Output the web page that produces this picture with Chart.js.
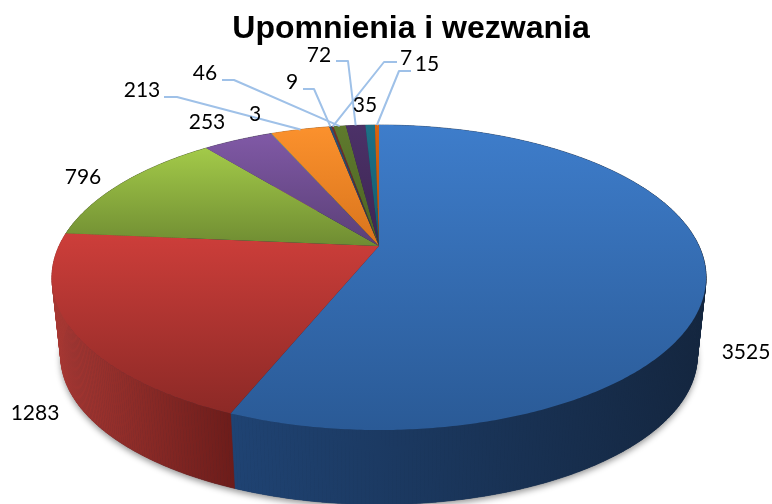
<!DOCTYPE html>
<html><head><meta charset="utf-8">
<style>html,body{margin:0;padding:0;background:#fff}canvas{display:block}</style>
<script src="https://cdn.jsdelivr.net/npm/chart.js@4/dist/chart.umd.min.js"></script>
</head><body><canvas id="c" width="772" height="504"></canvas>
<script>
const chartTitle = 'Upomnienia i wezwania';
const categories = ['A','B','C','D','E','F','G','H','I','J','K','L'];
const values = [3525,1283,796,253,3,213,9,7,46,72,35,15];
const topLight = ['#3e7dcb','#cd3e3a','#a3ca49','#8059a6','#40a5c2','#fb912d','#2c4d75','#772c2a','#5f7a2d','#4c3168','#1c7187','#d9640f'];
const topDark  = ['#2a5a96','#8c2926','#6f8c32','#5a3f76','#2f7f96','#d9741c','#24405f','#5f2220','#4d6424','#3c2652','#155a6c','#b5520b'];
const wallLeft  = ['#1f4373','#a83833','#55692a','#463660','#1f6070','#b0621a','#1c3350','#551d1b','#3e5020','#2e1f40','#114a58','#8f410a'];
const wallRight = ['#14263f','#6c1c1a','#3e4d1e','#30243f','#164855','#8c4e14','#14263f','#3f1514','#2d3a17','#20162d','#0c3641','#6d3107'];
const labelSpots = [[746,352],[35,413],[83,177],[207,122],[255,114],[142,90],[292,82],[406,58],[205,73],[319,55],[365,105],[427,64]];
const leaderPaths = [null,null,null,null,null,[[164,97],[177,97]],[[303,89],[314,89]],[[397,62],[384,62]],[[222,80],[234,80]],[[336,61],[348,61]],null,[[411,71],[399,71]]];
const viewWarp = [[0,0],[202,0.0135],[277,0.027],[326,0.022],[345,0.005],[360,0]];

const G = {cx:379, ay:246, A:320, B:146, k:0.2066, s:0.973, d:79.5};
function warp(t){
  const deg=t*180/Math.PI;
  for(let i=0;i<viewWarp.length-1;i++){
    const a=viewWarp[i], b=viewWarp[i+1];
    if(deg<=b[0]) return t-(a[1]+(b[1]-a[1])*(deg-a[0])/(b[0]-a[0]));
  }
  return t;
}
function proj(t, lower){
  const u=Math.sin(t), v=Math.cos(t), w=1+G.k*v, s=lower?G.s:1;
  return [G.cx+s*G.A*u/w, G.ay+(lower?G.d:0)-s*G.B*v/w];
}
function arcPts(a,b,lower){
  const n=Math.max(2,Math.ceil((b-a)/0.01)), p=[];
  for(let i=0;i<=n;i++) p.push(proj(a+(b-a)*i/n,lower));
  return p;
}
const pie3d = {
  id:'pie3d',
  beforeDatasetDraw(chart,args){
    const ctx=chart.ctx, els=chart.getDatasetMeta(args.index).data;
    const spans=els.map(e=>[warp(e.startAngle+Math.PI/2),warp(e.endAngle+Math.PI/2)]);
    ctx.save();
    ctx.shadowColor='rgba(0,0,0,0.42)';ctx.shadowBlur=6;ctx.shadowOffsetY=3;ctx.shadowOffsetX=0;
    ctx.fillStyle='#14263f';ctx.beginPath();
    arcPts(0,Math.PI*2,true).forEach(p=>ctx.lineTo(p[0],p[1]));
    ctx.closePath();ctx.fill();ctx.restore();
    spans.forEach((sp,i)=>{
      const up=arcPts(sp[0],sp[1],false), lo=arcPts(sp[0],sp[1],true);
      const xs=up.concat(lo).map(p=>p[0]);
      const x0=Math.min(...xs), x1=Math.max(...xs);
      const g=ctx.createLinearGradient(x0,0,x1,0);
      g.addColorStop(0,wallLeft[i]);g.addColorStop(1,wallRight[i]);
      ctx.fillStyle=g;ctx.strokeStyle=g;ctx.lineWidth=0.6;
      for(let j=0;j<up.length-1;j++){
        ctx.beginPath();
        ctx.moveTo(up[j][0],up[j][1]);ctx.lineTo(up[j+1][0],up[j+1][1]);
        ctx.lineTo(lo[j+1][0],lo[j+1][1]);ctx.lineTo(lo[j][0],lo[j][1]);
        ctx.closePath();ctx.fill();ctx.stroke();
      }
    });
    spans.forEach((sp,i)=>{
      const pts=arcPts(sp[0],sp[1],false);
      const ys=pts.map(p=>p[1]).concat(G.ay);
      const y0=Math.min(...ys), y1=Math.max(...ys);
      const g=ctx.createLinearGradient(0,y0,0,y1);
      g.addColorStop(0,topLight[i]);g.addColorStop(1,topDark[i]);
      ctx.fillStyle=g;ctx.beginPath();ctx.moveTo(G.cx,G.ay);
      pts.forEach(p=>ctx.lineTo(p[0],p[1]));
      ctx.closePath();ctx.fill();
    });
    return false;
  },
  afterDatasetsDraw(chart){
    const ctx=chart.ctx, els=chart.getDatasetMeta(0).data;
    ctx.save();
    ctx.strokeStyle='#9fc1e8';ctx.lineWidth=2;ctx.lineJoin='round';
    els.forEach((e,i)=>{
      const lp=leaderPaths[i]; if(!lp) return;
      const mid=warp((e.startAngle+e.endAngle)/2+Math.PI/2);
      const end=proj(mid,false);
      ctx.beginPath();ctx.moveTo(lp[0][0],lp[0][1]);ctx.lineTo(lp[1][0],lp[1][1]);ctx.lineTo(end[0],end[1]);ctx.stroke();
    });
    ctx.fillStyle='#000';ctx.font='21px Lato, "Open Sans", sans-serif';ctx.textAlign='center';ctx.textBaseline='middle';
    values.forEach((v,i)=>ctx.fillText(String(v),labelSpots[i][0],labelSpots[i][1]));
    ctx.restore();
  }
};
new Chart(document.getElementById('c'),{
  type:'pie',
  data:{labels:categories,datasets:[{data:values,backgroundColor:topLight,borderWidth:0}]},
  plugins:[pie3d],
  options:{
    responsive:false,animation:false,
    layout:{padding:{left:50,right:0,top:10,bottom:0}},
    plugins:{
      legend:{display:false},tooltip:{enabled:false},
      title:{display:true,text:chartTitle,color:'#000',font:{family:'"Liberation Sans", Arial, sans-serif',size:32,weight:'bold'},padding:0}
    }
  }
});
</script></body></html>
